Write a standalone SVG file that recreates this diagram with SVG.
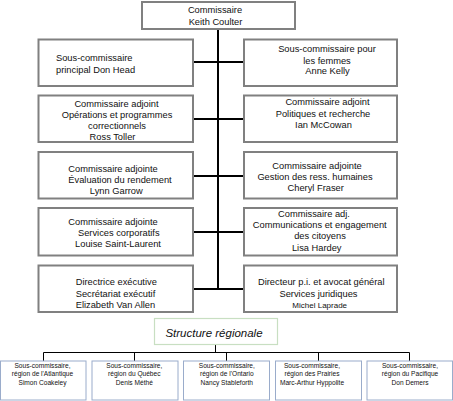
<svg xmlns="http://www.w3.org/2000/svg" width="453" height="401" viewBox="0 0 453 401">
<style>
.b{fill:#fff;stroke:#808080;stroke-width:2}
.r{fill:#fff;stroke:#9aaccb;stroke-width:1}
.t{font-family:"Liberation Sans",Arial,sans-serif;font-size:9.3px;fill:#111;text-anchor:middle}
.s{font-family:"Liberation Sans",Arial,sans-serif;font-size:6.6px;fill:#111;text-anchor:middle}
.c{stroke:#000;stroke-width:2;fill:none}
.c1{stroke:#000;stroke-width:1;fill:none}
</style>
<rect width="453" height="401" fill="#fff"/>
<g id="connectors">
<path class="c" d="M218 30V289M193 62H244M193 119H244M193 176H244M193 232H244M193 289H244"/>
<path class="c1" d="M215.5 344.5V352.5M43.5 361V352.5H409.5V361M134.5 352.5V361M226.5 352.5V361M318.5 352.5V361"/>
</g>
<g id="commissaire"><rect class="b" x="142" y="2" width="153" height="27"/>
<text class="t" x="215" y="13">Commissaire</text><text class="t" x="215.5" y="24.5">Keith Coulter</text></g>
<g id="sous-principal"><rect class="b" x="38.5" y="39.5" width="154.5" height="46.5"/>
<text class="t" x="56" y="60.7" style="text-anchor:start">Sous-commissaire</text><text class="t" x="56" y="72.7" style="text-anchor:start">principal  Don Head</text></g>
<g id="sous-femmes"><rect class="b" x="244" y="39.5" width="153" height="46.5"/>
<text class="t" x="327" y="52.4">Sous-commissaire pour</text><text class="t" x="327" y="64">les femmes</text><text class="t" x="327.5" y="74.4">Anne Kelly</text></g>
<g id="operations"><rect class="b" x="38.5" y="95.5" width="154.5" height="46.5"/>
<text class="t" x="116.5" y="107.4">Commissaire adjoint</text><text class="t" x="117" y="118.4">Opérations et programmes</text><text class="t" x="117" y="129">correctionnels</text><text class="t" x="112.5" y="140">Ross Toller</text></g>
<g id="politiques"><rect class="b" x="244" y="95.5" width="153" height="46.5"/>
<text class="t" x="327.5" y="105.4">Commissaire adjoint</text><text class="t" x="323" y="117.4">Politiques et recherche</text><text class="t" x="323.5" y="128">Ian McCowan</text></g>
<g id="evaluation"><rect class="b" x="38.5" y="152" width="154.5" height="46.5"/>
<text class="t" x="113" y="172.4">Commissaire adjointe</text><text class="t" x="120" y="183">Évaluation du rendement</text><text class="t" x="116.3" y="194">Lynn Garrow</text></g>
<g id="ressources"><rect class="b" x="244" y="152" width="153" height="46.5"/>
<text class="t" x="317" y="169.4">Commissaire adjointe</text><text class="t" x="315" y="180">Gestion des ress. humaines</text><text class="t" x="315.7" y="191">Cheryl Fraser</text></g>
<g id="corporatifs"><rect class="b" x="38.5" y="208" width="154.5" height="47.5"/>
<text class="t" x="113" y="224.7">Commissaire adjointe</text><text class="t" x="118.8" y="236">Services corporatifs</text><text class="t" x="118" y="247">Louise Saint-Laurent</text></g>
<g id="communications"><rect class="b" x="244" y="208" width="153" height="47.5"/>
<text class="t" x="314" y="216.7">Commissaire adj.</text><text class="t" x="319.8" y="228.4">Communications et engagement</text><text class="t" x="320" y="239.4">des citoyens</text><text class="t" x="316.7" y="251">Lisa Hardey</text></g>
<g id="secretariat"><rect class="b" x="38.5" y="265.5" width="154.5" height="46.5"/>
<text class="t" x="75.7" y="285.4" style="text-anchor:start">Directrice exécutive</text><text class="t" x="75.7" y="297" style="text-anchor:start">Secrétariat exécutif</text><text class="t" x="75.7" y="307.7" style="text-anchor:start">Elizabeth Van Allen</text></g>
<g id="juridiques"><rect class="b" x="244" y="265.5" width="153" height="46.5"/>
<text class="t" x="321.3" y="285">Directeur p.i. et avocat général</text><text class="t" x="318.5" y="297">Services juridiques</text><text class="t" x="319.7" y="308" style="font-size:8px">Michel Laprade</text></g>
<g id="structure"><rect x="154.5" y="318.5" width="123" height="26" fill="#fff" stroke="#c8dfc2" stroke-width="1.2"/>
<text x="214" y="337" style="font-family:'Liberation Sans',Arial,sans-serif;font-size:11.5px;font-style:italic;fill:#111;text-anchor:middle">Structure régionale</text></g>
<g id="atlantique"><rect class="r" x="0.5" y="361" width="85.5" height="39"/>
<text class="s" x="42.5" y="367.5">Sous-commissaire,</text><text class="s" x="42.5" y="376.2">région de l'Atlantique</text><text class="s" x="42.5" y="385">Simon Coakeley</text></g>
<g id="quebec"><rect class="r" x="92" y="361" width="86" height="39"/>
<text class="s" x="134.3" y="367.5">Sous-commissaire,</text><text class="s" x="134.3" y="376.2">région du Québec</text><text class="s" x="134.3" y="385">Denis Méthé</text></g>
<g id="ontario"><rect class="r" x="183.5" y="361" width="86" height="39"/>
<text class="s" x="226.8" y="367.5">Sous-commissaire,</text><text class="s" x="226.8" y="376.2">région de l'Ontario</text><text class="s" x="226.8" y="385">Nancy Stableforth</text></g>
<g id="prairies"><rect class="r" x="275.5" y="361" width="86" height="39"/>
<text class="s" x="312" y="367.5">Sous-commissaire,</text><text class="s" x="312" y="376.2">région des Prairies</text><text class="s" x="312" y="385">Marc-Arthur Hyppolite</text></g>
<g id="pacifique"><rect class="r" x="367" y="361" width="85.5" height="39"/>
<text class="s" x="410" y="367.5">Sous-commissaire,</text><text class="s" x="410" y="376.2">région du Pacifique</text><text class="s" x="410" y="385">Don Demers</text></g>
</svg>
